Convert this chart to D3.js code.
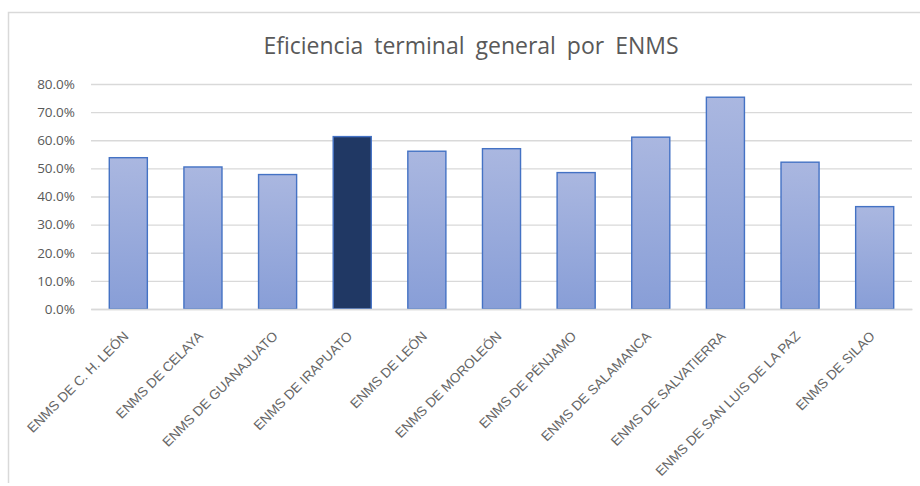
<!DOCTYPE html>
<html>
<head>
<meta charset="utf-8">
<script src="https://cdn.jsdelivr.net/npm/d3@7"></script>
<style>
    body { margin: 0; background: #fff; }
</style>
</head>
<body>
<div id="chart"></div>
<script>
const categories = [
    "ENMS DE C. H. LEÓN",
    "ENMS DE CELAYA",
    "ENMS DE GUANAJUATO",
    "ENMS DE IRAPUATO",
    "ENMS DE LEÓN",
    "ENMS DE MOROLEÓN",
    "ENMS DE PÉNJAMO",
    "ENMS DE SALAMANCA",
    "ENMS DE SALVATIERRA",
    "ENMS DE SAN LUIS DE LA PAZ",
    "ENMS DE SILAO",
]
const values = [0.538, 0.505, 0.478, 0.613, 0.561, 0.570, 0.485, 0.611, 0.753, 0.522, 0.364]
const highlighted = ["ENMS DE IRAPUATO"]
const yTicks = [0, 0.1, 0.2, 0.3, 0.4, 0.5, 0.6, 0.7, 0.8]
const title = "Eficiencia terminal general por ENMS"

const width = 920
const height = 486
const marginLeft = 91, marginRight = 8, marginTop = 84, marginBottom = 177

const svg = d3.create("svg")
    .attr("width", width)
    .attr("height", height)
    .attr("viewBox", [0, 0, width, height])
    .style("font-family", "'Open Sans', sans-serif")

// gradient for the normal bars
const grad = svg.append("defs").append("linearGradient")
    .attr("id", "barGrad")
    .attr("x1", 0).attr("y1", 0).attr("x2", 0).attr("y2", 1)
grad.append("stop").attr("offset", "0%").attr("stop-color", "#AAB7E0")
grad.append("stop").attr("offset", "100%").attr("stop-color", "#889ED7")

// chart frame (runs off the right and bottom of the picture)
svg.append("path")
    .attr("d", `M8.5,483 V12.5 H${width + 10}`)
    .attr("fill", "none")
    .attr("stroke", "#D9D9D9")
    .attr("stroke-width", 1.5)

svg.append("text")
    .attr("x", 471)
    .attr("y", 54)
    .attr("text-anchor", "middle")
    .attr("fill", "#595959")
    .style("font-size", "23px")
    .style("word-spacing", "5px")
    .text(title)

const x = d3.scaleBand(categories, [marginLeft, width - marginRight])
    .paddingInner(0.49)
    .paddingOuter(0.245)
const y = d3.scaleLinear([0, 0.8], [height - marginBottom, marginTop])

// y axis with gridlines
svg.append("g")
    .attr("transform", `translate(${marginLeft},0)`)
    .call(d3.axisLeft(y).tickValues(yTicks).tickFormat(d3.format(".1%")).tickSize(0).tickPadding(16))
    .call(g => g.select(".domain").remove())
    .call(g => g.selectAll(".tick text")
        .attr("fill", "#595959")
        .style("font-size", "13.5px")
        .style("font-family", "'Open Sans', sans-serif"))
    .call(g => g.selectAll(".tick line").clone()
        .attr("x2", width - marginLeft - marginRight)
        .attr("stroke", "#D9D9D9")
        .attr("stroke-width", 1.3))

svg.append("g")
    .selectAll("rect")
    .data(categories)
    .join("rect")
    .attr("x", d => x(d))
    .attr("y", (d, i) => y(values[i]))
    .attr("width", x.bandwidth())
    .attr("height", (d, i) => y(0) - y(values[i]))
    .attr("fill", d => highlighted.includes(d) ? "#203864" : "url(#barGrad)")
    .attr("stroke", "#4472C4")
    .attr("stroke-width", 1.4)

// x axis
svg.append("g")
    .attr("transform", `translate(0,${height - marginBottom})`)
    .call(d3.axisBottom(x).tickSize(0).tickPadding(0))
    .call(g => g.select(".domain")
        .attr("stroke", "#D9D9D9")
        .attr("stroke-width", 1.3))
    .call(g => g.selectAll(".tick text")
        .attr("text-anchor", "end")
        .attr("y", 0)
        .attr("dy", 0)
        .attr("transform", "translate(1,28) rotate(-45)")
        .attr("fill", "#666666")
        .style("font-size", "13.5px")
        .style("font-family", "'Liberation Sans', sans-serif"))

document.getElementById("chart").append(svg.node())
</script>
</body>
</html>
